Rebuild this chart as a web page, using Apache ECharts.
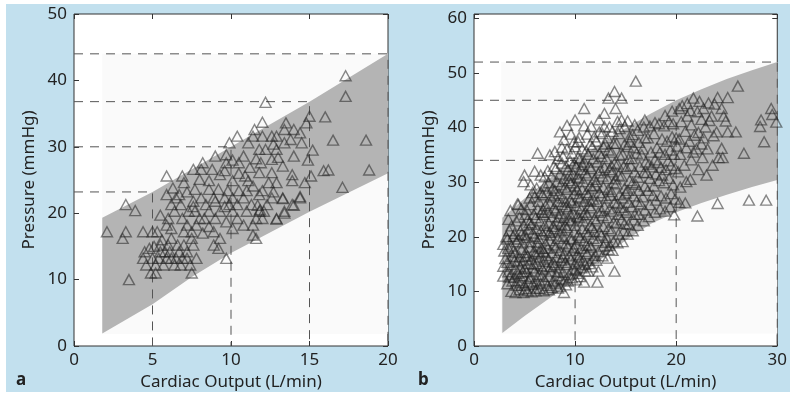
<!DOCTYPE html>
<html><head><meta charset="utf-8">
<script src="https://cdn.jsdelivr.net/npm/echarts@6/dist/echarts.min.js"></script>
<style>html,body{margin:0;padding:0;background:#fff}#c{width:790px;height:396px}</style>
</head><body><div id="c"></div>
<script>
// ---------- Panel a ----------
const xTickLabelsA = [0, 5, 10, 15, 20];
const yTickLabelsA = [0, 10, 20, 30, 40, 50];
const bandUpperA = [[1.8, 19.3], [5, 23.2], [10, 30], [15, 36.8], [20, 44]];
const bandLowerA = [[1.8, 1.9], [5, 6.3], [7.5, 10.4], [10, 14.0], [15, 20.2], [20, 26.0]];
const innerRectA = [1.8, 1.8, 20, 44];   // x0, y0, x1, y1
const guidesA = [[5, 23.2], [10, 30], [15, 36.8], [20, 44]];
const pointsA = [
[2.1,17.2],[3.3,21.3],[3.9,20.4],[3.3,17.2],[3.1,16.2],[3.5,10.0],[4.4,17.2],[5.0,17.2],[9.7,13.2],
[17.3,40.7],[17.3,37.6],[12.2,36.7],[16.0,34.5],[15.0,34.6],[18.6,31.0],[16.5,31.0],[18.8,26.5],[17.1,23.9],[15.9,26.4],[16.2,26.5],[15.1,25.6],[15.2,29.5],[14.9,28.0],
[14.0,28.6],[14.5,30.6],[13.8,31.1],[14.4,32.1],[14.8,33.6],[13.5,33.6],[13.4,32.6],[14.0,32.6],[12.0,33.7],[11.5,32.6],[11.4,31.6],[12.0,31.6],[12.6,31.6],[12.9,31.6],
[11.1,30.6],[12.7,30.4],[13.4,30.6],[10.4,31.6],[9.9,30.6],[9.0,28.6],[9.7,28.8],[10.1,28.0],[9.7,27.6],[10.5,27.6],[11.2,26.9],[11.8,29.6],[12.2,29.6],[12.9,29.6],
[11.9,27.6],[12.6,28.1],[13.3,27.1],[12.6,26.1],[11.8,26.1],[8.2,27.6],[8.1,26.6],[8.8,26.6],[7.6,26.6],[6.9,25.6],[5.9,25.6],[8.0,25.1],[8.6,24.9],[10.1,24.9],
[10.5,26.0],[11.1,24.9],[11.4,24.1],[12.4,24.6],[12.9,24.6],[13.9,24.9],[14.7,24.6],[13.9,25.8],[7.7,23.6],[14.4,22.5],[14.0,21.2],[13.4,20.0],[12.9,19.2],[13.3,22.2],
[12.7,23.2],[11.85,20.5],[11.7,21.2],[9.3,25.8],[9.6,26.4],[10.8,28.6],[11.6,28.2],[13.0,28.4],[10.9,25.6],
[4.5,14.2],[4.4,13.2],[4.6,12.2],[4.9,11.0],[5.2,11.0],[5.2,12.2],[5.0,13.2],[5.5,14.2],[5.5,15.2],[5.8,14.2],[5.9,13.2],[5.4,13.2],[5.7,12.2],[6.2,13.2],[6.0,15.2],
[6.2,16.2],[6.7,14.2],[7.0,15.2],[7.2,13.2],[7.4,12.2],[7.5,11.0],[6.8,12.2],[6.9,13.2],[7.8,13.2],[7.6,15.2],[7.5,16.2],[6.5,13.2],[6.4,12.2],[6.1,14.2],[6.6,15.2],
[7.2,14.2],[5.6,16.0],[5.3,17.2],[5.1,15.0],[4.8,14.7],
[5.9,18.2],[6.2,17.7],[6.0,19.2],[5.5,19.7],[6.4,20.3],[6.8,21.3],[6.5,22.3],[6.2,21.3],[6.9,19.2],[7.2,18.2],[7.0,17.2],[7.5,17.2],[7.8,18.2],[8.0,19.2],[7.7,20.3],
[7.3,20.3],[7.6,21.8],[8.1,22.3],[8.4,21.3],[8.6,20.3],[8.3,19.2],[8.6,18.0],[8.9,17.2],[9.3,16.2],[8.9,15.2],[9.2,14.7],[8.2,17.0],[9.0,19.2],[9.3,20.3],[9.0,21.8],
[9.6,22.3],[9.9,21.3],[10.1,22.3],[10.1,20.3],[10.4,19.2],[10.1,17.7],[9.7,18.7],[10.8,18.2],[11.4,18.2],[11.4,16.7],[11.6,16.2],[11.6,19.2],[11.0,20.3],[11.3,21.3],
[10.8,22.3],[11.8,20.3],[12.1,20.3],[12.0,19.2],[12.9,19.1],[13.4,20.3],[13.9,21.3],[14.4,22.3],[13.3,22.3],[12.6,22.3],[12.3,21.3],[11.8,22.8],[11.0,23.4],[12.0,23.4],
[10.5,23.4],[9.8,23.4],[9.2,23.6],[8.6,23.6],[7.2,23.2],[6.7,22.8],[5.9,22.8],[6.3,23.8],[7.0,24.6],[7.6,21.0],[8.9,22.3],[9.6,21.0],[10.4,21.3]
];

// ---------- Panel b ----------
const xTickLabelsB = [0, 10, 20, 30];
const yTickLabelsB = [0, 10, 20, 30, 40, 50, 60];
const bandUpperB = [[2.8, 23.5], [5, 27], [7.5, 30.7], [10, 34], [12.5, 37], [15, 39.9], [17.5, 42.6], [20, 45], [22.5, 47], [25, 48.9], [27.5, 50.5], [30, 52]];
const bandLowerB = [[2.8, 2.4], [5, 5.5], [7.5, 8.8], [10, 12.2], [12.5, 15.8], [15, 19.3], [17.5, 22.4], [20, 24.5], [22.5, 26.2], [25, 27.7], [27.5, 29.1], [30, 30.4]];
const innerRectB = [2.7, 2.3, 30, 52];
const guidesB = [[10, 34], [20, 45], [30, 52]];
const pointsB = [
[2.9,12.8],[2.9,14.6],[3.0,17.4],[2.9,18.6],[3.1,16.0],
[3.3,11.4],[3.4,13.6],[3.3,15.3],[3.4,17.9],[3.3,19.6],[3.5,21.1],[3.4,23.2],
[3.7,10.0],[3.8,11.9],[3.7,13.1],[3.6,14.9],[3.8,16.4],[3.7,18.3],[3.9,20.1],[3.7,22.0],
[4.1,9.8],[4.2,11.1],[4.0,12.6],[4.1,14.1],[4.3,15.4],[4.1,17.1],[4.2,19.1],[4.0,20.6],[4.2,22.9],[4.3,26.0],
[4.5,10.3],[4.6,11.6],[4.4,13.3],[4.6,14.5],[4.5,16.3],[4.7,17.7],[4.4,19.6],[4.6,21.1],[4.5,23.6],[4.7,25.1],
[4.9,9.8],[5.0,11.1],[4.8,12.9],[5.0,14.2],[4.9,15.7],[5.1,17.1],[4.8,18.9],[5.0,20.3],[4.9,22.1],[5.1,24.1],[4.9,30.1],[5.0,31.3],
[5.3,10.1],[5.4,11.7],[5.2,13.6],[5.4,15.1],[5.3,16.5],[5.5,18.1],[5.2,19.9],[5.4,21.4],[5.3,23.1],[5.2,25.0],[5.5,27.1],
[5.7,9.9],[5.8,11.3],[5.6,12.7],[5.8,14.3],[5.7,15.9],[5.9,17.3],[5.6,19.1],[5.8,20.7],[5.7,22.3],[5.9,24.1],[5.6,25.9],[5.8,28.1],
[6.1,10.1],[6.2,11.9],[6.0,13.7],[6.2,15.1],[6.1,16.9],[6.3,18.3],[6.0,20.1],[6.2,21.5],[6.1,23.5],[6.3,25.1],[6.0,27.3],[6.2,28.9],
[6.5,10.5],[6.6,11.5],[6.4,13.1],[6.6,14.7],[6.5,16.3],[6.7,17.9],[6.4,19.7],[6.6,21.1],[6.5,22.9],[6.7,24.5],[6.4,26.5],[6.6,28.1],[6.6,31.3],[6.3,35.3],
[6.9,10.1],[7.0,12.1],[6.8,14.1],[7.0,15.5],[6.9,17.3],[7.1,18.7],[6.8,20.5],[7.0,22.1],[6.9,24.1],[7.1,25.7],[6.8,27.7],[7.0,29.3],
[7.3,11.1],[7.4,12.7],[7.2,14.5],[7.4,15.9],[7.3,17.9],[7.5,19.3],[7.2,21.1],[7.4,22.5],[7.3,24.5],[7.5,26.1],[7.2,28.1],[7.4,29.9],[7.3,32.1],
[7.7,10.7],[7.8,11.9],[7.6,13.7],[7.8,15.3],[7.7,17.1],[7.9,18.5],[7.6,20.3],[7.8,21.9],[7.7,23.7],[7.9,25.3],[7.6,27.3],[7.8,28.9],[7.7,31.1],[7.9,32.9],
[8.1,11.5],[8.2,12.9],[8.0,14.9],[8.2,16.3],[8.1,18.1],[8.3,19.7],[8.0,21.5],[8.2,22.9],[8.1,24.9],[8.3,26.5],[8.0,28.5],[8.2,30.1],[8.1,32.5],[8.3,34.3],
[8.5,10.9],[8.6,12.3],[8.4,14.3],[8.6,15.7],[8.5,17.5],[8.7,18.9],[8.4,20.9],[8.6,22.3],[8.5,24.3],[8.7,25.9],[8.4,27.9],[8.6,29.5],[8.5,31.5],[8.7,33.5],[8.7,36.4],[8.5,39.2],
[8.9,9.8],[9.0,12.1],[8.8,13.5],[9.0,15.3],[8.9,16.9],[9.1,18.7],[8.8,20.1],[9.0,22.1],[8.9,23.5],[9.1,25.5],[8.8,27.1],[9.0,29.1],[8.9,30.7],[9.1,32.9],[8.8,34.7],
[9.3,11.9],[9.4,13.1],[9.2,14.9],[9.4,16.5],[9.3,18.3],[9.5,19.7],[9.2,21.7],[9.4,23.1],[9.3,25.1],[9.5,26.7],[9.2,28.7],[9.4,30.3],[9.3,32.3],[9.5,33.9],[9.2,36.1],
[9.7,12.5],[9.8,14.1],[9.6,15.9],[9.8,17.5],[9.7,19.5],[9.9,20.9],[9.6,22.9],[9.8,24.3],[9.7,26.3],[9.9,27.9],[9.6,29.9],[9.8,31.5],[9.9,33.5],[9.7,35.3],[9.9,37.4],
[10.1,12.1],[10.2,13.3],[10.0,15.1],[10.2,16.7],[10.1,18.7],[10.3,20.3],[10.0,22.1],[10.2,23.7],[10.1,25.7],[10.3,27.3],[10.0,29.3],[10.2,30.9],[10.1,32.9],[10.3,34.5],[10.0,36.5],
[10.5,12.7],[10.6,14.3],[10.4,16.3],[10.6,17.9],[10.5,19.9],[10.7,21.5],[10.4,23.5],[10.6,25.1],[10.5,27.1],[10.7,28.7],[10.4,30.7],[10.6,32.3],[10.5,34.3],[10.7,36.1],[10.4,38.2],
[10.9,11.7],[11.0,13.7],[10.8,15.7],[11.0,17.3],[10.9,19.3],[11.1,20.9],[10.8,22.9],[11.0,24.5],[10.9,26.5],[11.1,28.1],[10.8,30.1],[11.0,31.7],[10.9,33.7],[11.1,35.7],[10.9,40.3],[10.9,43.5],
[11.3,13.7],[11.4,15.1],[11.2,16.9],[11.4,18.5],[11.3,20.5],[11.5,22.1],[11.2,24.1],[11.4,25.7],[11.3,27.7],[11.5,29.3],[11.2,31.3],[11.4,32.9],[11.3,35.1],[11.5,36.9],
[11.7,14.5],[11.8,16.1],[11.6,18.1],[11.8,19.7],[11.7,21.7],[11.9,23.3],[11.6,25.3],[11.8,26.9],[11.7,28.9],[11.9,30.5],[11.6,32.5],[11.8,34.3],[11.7,36.5],[11.9,38.3],
[12.2,11.7],[12.3,13.7],[12.1,15.7],[12.3,17.3],[12.2,19.3],[12.4,20.9],[12.1,22.9],[12.3,24.5],[12.2,26.5],[12.4,28.1],[12.1,30.1],[12.3,31.7],[12.2,33.7],[12.4,35.3],[12.1,37.5],[12.4,41.4],
[12.7,16.5],[12.8,18.3],[12.6,20.3],[12.8,21.9],[12.7,23.9],[12.9,25.5],[12.6,27.5],[12.8,29.1],[12.7,31.1],[12.9,32.7],[12.6,34.7],[12.8,36.5],[12.7,38.9],[12.9,40.2],
[13.2,16.1],[13.3,17.7],[13.1,19.9],[13.3,21.5],[13.2,23.5],[13.4,25.1],[13.1,27.1],[13.3,28.7],[13.2,30.7],[13.4,32.3],[13.1,34.3],[13.3,35.9],[13.2,38.1],[13.4,40.1],[13.3,45.4],
[13.7,17.5],[13.8,19.1],[13.6,21.1],[13.8,22.7],[13.7,24.7],[13.9,26.3],[13.6,28.3],[13.8,29.9],[13.7,31.9],[13.9,33.5],[13.6,35.5],[13.8,37.1],[13.7,39.3],[13.9,46.6],[13.9,13.7],
[14.2,18.9],[14.3,20.5],[14.1,22.5],[14.3,24.1],[14.2,26.1],[14.4,27.7],[14.1,29.7],[14.3,31.3],[14.2,33.3],[14.4,34.9],[14.1,37.1],[14.3,38.9],[14.2,41.1],
[14.7,19.1],[14.8,21.1],[14.6,23.1],[14.8,24.9],[14.7,27.1],[14.9,28.9],[14.6,31.1],[14.8,32.9],[14.7,35.1],[14.9,36.9],[14.9,40.2],[14.6,41.4],[14.6,45.4],
[15.2,20.5],[15.3,22.3],[15.1,24.5],[15.3,26.3],[15.2,28.5],[15.4,30.3],[15.1,32.5],[15.3,34.3],[15.2,36.5],[15.4,38.3],
[15.7,21.1],[15.8,23.1],[15.6,25.5],[15.8,27.5],[15.7,29.9],[15.9,31.9],[15.6,34.3],[15.8,36.3],[15.7,38.7],[15.9,40.5],
[16.2,22.1],[16.3,24.1],[16.1,26.5],[16.3,28.5],[16.2,30.9],[16.4,32.9],[16.1,35.3],[16.3,37.3],[16.2,39.5],[16.0,48.5],
[16.8,22.9],[16.9,24.9],[16.7,27.3],[16.9,29.3],[16.8,31.7],[17.0,33.7],[16.7,36.1],[16.9,38.1],[16.8,40.1],[16.9,41.4],
[17.3,23.7],[17.4,25.9],[17.2,28.5],[17.4,30.7],[17.3,33.3],[17.5,35.5],[17.2,38.1],[17.4,40.3],
[17.9,24.5],[18.0,26.7],[17.8,29.3],[18.0,31.5],[17.9,34.1],[18.1,36.3],[17.8,38.9],
[18.4,25.1],[18.5,27.5],[18.3,30.3],[18.5,32.7],[18.4,35.5],[18.6,37.9],[18.3,40.7],
[18.9,24.7],[19.0,27.1],[18.8,29.9],[19.0,32.3],[18.9,35.1],[19.1,37.5],[18.8,40.3],
[19.4,25.5],[19.5,27.9],[19.3,30.7],[19.5,33.1],[19.4,35.9],[19.6,38.3],[19.3,41.1],
[19.8,24.0],[19.9,26.9],[19.7,29.5],[19.9,32.5],[19.8,35.1],[20.0,38.1],[19.7,40.7],[20.3,43.5],
[20.3,26.3],[20.4,29.1],[20.2,31.9],[20.4,35.1],[20.3,37.9],[20.5,41.1],[20.9,26.2],[21.0,30.1],[20.8,33.1],[21.0,36.3],[20.9,39.3],[21.1,42.1],
[21.4,30.5],[21.5,34.1],[21.3,37.5],[21.5,40.5],[21.4,43.1],[21.7,45.4],[22.1,23.8],[22.2,32.3],[22.0,36.1],[22.2,39.1],[22.1,42.9],
[22.6,34.5],[22.7,38.1],[22.5,41.5],[22.7,43.5],[23.0,31.3],[23.1,36.1],[22.9,40.1],[23.2,44.5],[23.6,33.1],[23.7,38.5],[23.5,42.1],
[24.1,26.1],[24.2,34.5],[24.5,36.2],[24.0,39.2],[24.1,45.5],[24.6,34.5],[24.7,42.1],[24.5,43.5],[25.1,39.2],[25.1,45.5],[25.9,39.2],
[26.1,47.6],[26.7,35.3],[27.2,26.7],[28.3,40.2],[28.4,41.4],[28.7,37.4],[28.9,26.7],[29.4,43.5],[29.5,42.4],[29.9,41.0],
[4.3,12.0],[4.8,13.6],[5.5,12.4],[5.1,16.4],[5.9,15.0],[6.4,17.2],[4.7,20.4],[5.5,22.6],[6.3,19.0],[7.1,16.6],[7.6,14.6],[6.7,12.8],[8.3,13.6],[8.8,16.2],
[7.5,20.8],[8.4,23.6],[6.8,25.0],[7.9,27.6],[9.1,26.4],[9.5,24.0],[8.7,21.2],[9.9,18.0],[10.4,15.4],[11.1,18.4],[10.8,24.0],[11.5,26.6],[10.2,28.6],[9.4,31.2],
[10.7,33.2],[12.0,29.4],[12.5,32.2],[11.9,21.0],[12.6,24.8],[13.0,19.0],[13.5,27.6],[14.0,30.6],[13.6,33.0],[14.5,25.4],[15.0,28.0],[15.5,33.0],[16.0,29.6],
[16.6,35.0],[17.1,31.8],[17.7,27.6],[18.2,33.6],[15.4,37.4],[14.4,39.8],[13.0,37.0],[12.4,39.2],[11.2,38.8],[10.3,37.4],[9.6,38.8],[8.9,37.8],[3.6,24.8],
[4.4,25.9],[3.2,20.0],[3.9,17.4],[4.0,15.6],[3.5,12.6],[5.6,29.5],[6.0,32.0],[7.0,31.0],[8.0,35.6],[7.5,35.0],[9.2,40.4],[10.0,41.4],[11.6,40.2],[12.9,42.6],
[14.0,43.5],[15.2,41.2],[17.9,40.9],[18.9,42.2],[19.6,43.0],[20.6,44.0],[21.1,44.4],[22.3,44.8],[23.8,44.3],[24.9,41.2],[23.3,41.3],[22.5,37.0],[21.7,35.5],
[21.8,38.6],[20.1,36.6],[19.2,33.9],[18.6,31.3],[17.6,32.8],[16.5,26.0],[15.9,24.1],[14.9,22.4],[13.4,18.4],[12.0,16.6],[11.0,14.9],[10.0,13.9],[9.1,11.2],
[8.3,10.6],[7.4,10.3],[6.2,10.6],[5.1,10.5]
];

// ---------- Rendering ----------
const FONT = 'Noto Sans';
const TXT = '#222';
const chart = echarts.init(document.getElementById('c'), null, {renderer: 'canvas'});

function xAxes(grid, max, interval, name) {
  const base = {gridIndex: grid, type: 'value', min: 0, max: max, interval: interval,
    splitLine: {show: false}, axisLine: {show: false, onZero: false},
    axisTick: {inside: true, length: 5, lineStyle: {color: '#333', width: 1}}};
  return [
    Object.assign({}, base, {position: 'bottom',
      axisLabel: {margin: 6, color: TXT, fontSize: 17, fontFamily: FONT},
      name: name, nameLocation: 'middle', nameGap: 28,
      nameTextStyle: {color: TXT, fontSize: 17, fontFamily: FONT}}),
    Object.assign({}, base, {position: 'top', axisLabel: {show: false}})
  ];
}
function yAxes(grid, max, interval, name) {
  const base = {gridIndex: grid, type: 'value', min: 0, max: max, interval: interval,
    splitLine: {show: false}, axisLine: {show: false, onZero: false},
    axisTick: {inside: true, length: 5, lineStyle: {color: '#333', width: 1}}};
  return [
    Object.assign({}, base, {position: 'left',
      axisLabel: {margin: 7, color: TXT, fontSize: 17, fontFamily: FONT,
        formatter: v => (Math.abs(v % interval) < 1e-6 ? String(v) : '')},
      name: name, nameLocation: 'middle', nameGap: 36,
      nameTextStyle: {color: TXT, fontSize: 17, fontFamily: FONT}}),
    Object.assign({}, base, {position: 'right', axisLabel: {show: false}})
  ];
}

function rectSeries(xi, yi, r) {
  return {type: 'custom', xAxisIndex: xi, yAxisIndex: yi, z: 1, silent: true,
    data: [[r[0], r[1]]],
    renderItem: (params, api) => {
      const a = api.coord([r[0], r[3]]);
      const b = api.coord([r[2], r[1]]);
      return {type: 'rect', shape: {x: a[0], y: a[1], width: b[0] - a[0], height: b[1] - a[1]},
        style: {fill: '#fafafa'}};
    }};
}
function bandSeries(xi, yi, upper, lower) {
  return {type: 'custom', xAxisIndex: xi, yAxisIndex: yi, z: 2, silent: true,
    data: [upper[0]],
    renderItem: (params, api) => {
      const pts = upper.map(p => api.coord(p)).concat(lower.slice().reverse().map(p => api.coord(p)));
      return {type: 'polygon', shape: {points: pts}, style: {fill: '#b4b4b4'}};
    }};
}
function guideSeries(xi, yi, guides) {
  return guides.map(g => ({type: 'line', xAxisIndex: xi, yAxisIndex: yi, z: 3, silent: true,
    symbol: 'none', data: [[0, g[1]], [g[0], g[1]], [g[0], 0]],
    lineStyle: {color: '#555', width: 1, type: [9, 7]}}));
}
function scatterSeries(xi, yi, pts) {
  return {type: 'scatter', xAxisIndex: xi, yAxisIndex: yi, z: 4, silent: true,
    symbol: 'triangle', symbolSize: [11, 10], data: pts,
    itemStyle: {color: 'rgba(0,0,0,0)', borderColor: 'rgba(35,35,35,0.68)', borderWidth: 1.4}};
}

const option = {
  animation: false,
  backgroundColor: '#fff',
  graphic: [
    {type: 'rect', z: -10, silent: true, shape: {x: 6, y: 4, width: 784, height: 388}, style: {fill: '#c2e0ee'}},
    {type: 'text', z: 10, left: 16, top: 372, style: {text: 'a', font: 'bold 17px "Noto Sans"', fill: TXT}},
    {type: 'text', z: 10, left: 418, top: 372, style: {text: 'b', font: 'bold 17px "Noto Sans"', fill: TXT}}
  ],
  grid: [
    {left: 74, top: 14, width: 314, height: 332, show: true, backgroundColor: '#fff', borderColor: '#333', borderWidth: 1},
    {left: 474, top: 14, width: 314, height: 332, show: true, backgroundColor: '#fff', borderColor: '#333', borderWidth: 1}
  ],
  xAxis: xAxes(0, 20, 5, 'Cardiac Output (L/min)').concat(xAxes(1, 30, 10, 'Cardiac Output (L/min)')),
  yAxis: yAxes(0, 50, 10, 'Pressure (mmHg)').concat(yAxes(1, 60.8, 10, 'Pressure (mmHg)')),
  series: [
    rectSeries(0, 0, innerRectA), bandSeries(0, 0, bandUpperA, bandLowerA),
    ...guideSeries(0, 0, guidesA), scatterSeries(0, 0, pointsA),
    rectSeries(2, 2, innerRectB), bandSeries(2, 2, bandUpperB, bandLowerB),
    ...guideSeries(2, 2, guidesB), scatterSeries(2, 2, pointsB)
  ]
};
chart.setOption(option);
</script></body></html>
